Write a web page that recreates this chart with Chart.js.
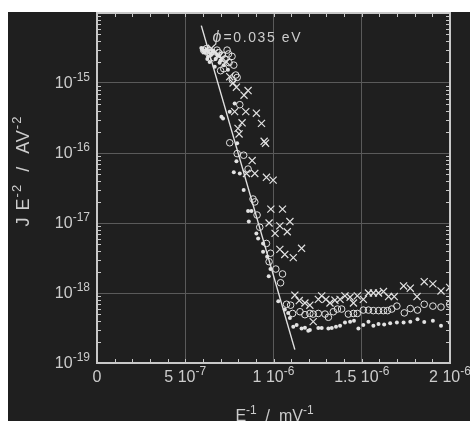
<!DOCTYPE html>
<html>
<head>
<meta charset="utf-8">
<script src="https://cdn.jsdelivr.net/npm/chart.js@4.4.1/dist/chart.umd.min.js"></script>
<style>
  html, body { margin: 0; padding: 0; background: #fff; }
</style>
</head>
<body>
<canvas id="chart" width="470" height="421"></canvas>
<script>
// E^-1 in units of 1e-6 mV^-1, J E^-2 in A V^-2
const dotX = [0.591, 0.610, 0.629, 0.653, 0.672, 0.695, 0.718, 0.667, 0.742, 0.638,
              0.600, 0.620, 0.645, 0.660, 0.685, 0.700, 0.625,
              0.780, 0.705, 0.714, 0.752, 0.794, 0.790, 0.775, 0.809, 0.831, 0.856,
              0.875, 0.860, 0.903, 0.913, 0.941, 0.941, 0.964, 0.983, 0.973,
              1.027, 1.064, 1.083, 1.093, 1.112, 1.131, 1.159, 1.178, 1.197, 1.206,
              1.254, 1.273, 1.311, 1.330, 1.354, 1.377, 1.405, 1.434, 1.456, 1.481,
              1.509, 1.538, 1.566, 1.595, 1.627, 1.661, 1.699, 1.737, 1.775, 1.816,
              1.854, 1.903, 1.949, 1.998];
const dotY = [3.15e-15, 2.7e-15, 2.4e-15, 2.8e-15, 2.2e-15, 1.95e-15, 1.8e-15, 1.7e-15, 1.55e-15, 2.0e-15,
              2.9e-15, 3.0e-15, 2.6e-15, 2.9e-15, 2.5e-15, 2.1e-15, 2.2e-15,
              5.1e-16, 3.3e-16, 3.1e-16, 3.9e-16, 1.38e-16, 7.6e-17, 5.3e-17, 5.1e-17, 2.95e-17, 1.48e-17,
              1.48e-17, 1.05e-17, 7.1e-18, 6.0e-18, 5.1e-18, 3.9e-18, 3.3e-18, 2.2e-18, 1.74e-18,
              7.6e-19, 5.8e-19, 5.2e-19, 4.4e-19, 3.3e-19, 3.5e-19, 3.1e-19, 3.2e-19, 2.9e-19, 2.95e-19,
              3.15e-19, 3.15e-19, 3.1e-19, 3.15e-19, 3.3e-19, 3.4e-19, 3.8e-19, 3.9e-19, 4.0e-19, 3.1e-19,
              3.5e-19, 3.9e-19, 3.4e-19, 3.6e-19, 3.55e-19, 3.7e-19, 3.8e-19, 3.8e-19, 3.9e-19, 4.2e-19,
              3.85e-19, 4.0e-19, 3.4e-19, 3.8e-19];

const circleX = [0.604, 0.642, 0.680, 0.710, 0.737, 0.765, 0.748, 0.775, 0.786, 0.794,
                 0.767, 0.718, 0.620, 0.660, 0.690, 0.725, 0.700, 0.745,
                 0.809, 0.752, 0.794, 0.831, 0.856, 0.884, 0.894, 0.907,
                 0.922, 0.960, 0.983, 0.975, 1.013, 1.051, 1.040,
                 1.074, 1.097, 1.108, 1.150, 1.178, 1.206, 1.225, 1.254, 1.292, 1.311,
                 1.339, 1.362, 1.386, 1.424, 1.453, 1.475, 1.509, 1.538, 1.566, 1.595,
                 1.623, 1.646, 1.670, 1.699, 1.741, 1.775, 1.816, 1.854, 1.903, 1.949,
                 1.998];
const circleY = [2.95e-15, 2.65e-15, 2.95e-15, 2.5e-15, 2.95e-15, 2.4e-15, 1.95e-15, 1.8e-15, 1.3e-15, 1.2e-15,
                 1.1e-15, 1.6e-15, 3.1e-15, 2.3e-15, 2.7e-15, 2.2e-15, 1.5e-15, 2.6e-15,
                 4.9e-16, 1.4e-16, 9.8e-17, 9.3e-17, 5.9e-17, 2.2e-17, 2.0e-17, 1.3e-17,
                 8.7e-18, 5.1e-18, 3.7e-18, 2.8e-18, 2.2e-18, 1.87e-18, 1.4e-18,
                 6.9e-19, 6.7e-19, 5.1e-19, 5.4e-19, 4.9e-19, 5.1e-19, 5.0e-19, 5.1e-19, 5.0e-19, 4.5e-19,
                 5.4e-19, 5.9e-19, 5.9e-19, 5.0e-19, 5.1e-19, 5.1e-19, 5.7e-19, 5.7e-19, 5.6e-19, 5.6e-19,
                 5.6e-19, 5.6e-19, 5.9e-19, 6.5e-19, 5.2e-19, 6.0e-19, 5.7e-19, 6.9e-19, 6.5e-19, 6.3e-19,
                 6.9e-19];

const crossX = [0.634, 0.648, 0.686, 0.695, 0.733, 0.752, 0.771, 0.790, 0.856, 0.833,
                0.615, 0.665, 0.705,
                0.780, 0.843, 0.903, 0.932, 0.822, 0.799, 0.805, 0.947, 0.955, 0.879,
                0.847, 0.894, 0.960, 0.998, 0.985, 1.051, 0.975, 1.036, 1.093, 1.009,
                1.078, 1.036, 1.064, 1.112, 1.159,
                1.121, 1.146, 1.178, 1.206, 1.225, 1.254, 1.273, 1.297, 1.320, 1.348,
                1.377, 1.405, 1.434, 1.453, 1.475, 1.509, 1.538, 1.566, 1.595, 1.623,
                1.652, 1.684, 1.737, 1.775, 1.813, 1.854, 1.903, 1.949, 1.998];
const crossY = [2.8e-15, 3.13e-15, 2.5e-15, 2.45e-15, 2.0e-15, 1.23e-15, 1.0e-15, 8.7e-16, 7.8e-16, 6.7e-16,
                2.9e-15, 2.7e-15, 2.2e-15,
                3.9e-16, 3.9e-16, 3.7e-16, 2.65e-16, 2.7e-16, 2.25e-16, 1.87e-16, 1.47e-16, 1.38e-16, 7.8e-17,
                5.1e-17, 5.1e-17, 4.5e-17, 4.1e-17, 1.58e-17, 1.58e-17, 1.0e-17, 9.1e-18, 1.05e-17, 7.1e-18,
                7.5e-18, 4.2e-18, 3.55e-18, 3.2e-18, 4.35e-18,
                9.3e-19, 7.8e-19, 7.2e-19, 6.7e-19, 3.9e-19, 8.1e-19, 9.1e-19, 8.1e-19, 7.2e-19, 7.9e-19,
                8.1e-19, 9.1e-19, 8.7e-19, 7.2e-19, 9.1e-19, 8.1e-19, 1.0e-18, 1.0e-18, 1.0e-18, 1.05e-18,
                8.9e-19, 8.9e-19, 1.26e-18, 1.17e-18, 8.9e-19, 1.45e-18, 1.35e-18, 1.07e-18, 1.2e-18];

// Fowler-Nordheim fit line, phi = 0.035 eV
const fitX = [0.591, 1.121];
const fitY = [6.6e-15, 1.55e-19];

const xTickValues = [0, 5e-7, 1e-6, 1.5e-6, 2e-6];
const xTickLabels = [["0", ""], ["5 10", "-7"], ["1 10", "-6"], ["1.5 10", "-6"], ["2 10", "-6"]];
const yTickExps = [-19, -18, -17, -16, -15, -14];
const yTickLabels = [["10", "-19"], ["10", "-18"], ["10", "-17"], ["10", "-16"], ["10", "-15"], ["", ""]];
const xMinorStep = 1e-7;

const BG = "#1f1f1f";
const GRID = "#5a5a5a";
const FRAME = "#c8c8c8";
const TEXT = "#cccccc";
const MARK = "#e2e2e2";
const FONT = "'Liberation Sans', Arial, sans-serif";

const pts = (xs, ys) => xs.map((x, i) => ({ x: x * 1e-6, y: ys[i] }));

// text with a superscript part; returns the x where it ends
function supText(ctx, base, sup, x, y, align, size, supSize, spacing) {
    ctx.save();
    ctx.letterSpacing = (spacing || 0) + "px";
    ctx.font = size + "px " + FONT;
    const wb = ctx.measureText(base).width;
    ctx.font = supSize + "px " + FONT;
    const ws = sup ? ctx.measureText(sup).width : 0;
    const w = wb + ws;
    let x0 = x;
    if (align === "center") x0 = x - w / 2;
    if (align === "right") x0 = x - w;
    ctx.textAlign = "left";
    ctx.textBaseline = "middle";
    ctx.fillStyle = TEXT;
    ctx.font = size + "px " + FONT;
    ctx.fillText(base, x0, y);
    if (sup) {
        ctx.font = supSize + "px " + FONT;
        ctx.fillText(sup, x0 + wb, y - size * 0.38);
    }
    ctx.restore();
    return x0 + w;
}

const backgroundPlugin = {
    id: "bg",
    beforeDraw(chart) {
        const ctx = chart.ctx;
        ctx.save();
        ctx.fillStyle = "#ffffff";
        ctx.fillRect(0, 0, chart.width, chart.height);
        ctx.fillStyle = BG;
        ctx.fillRect(8, 12, chart.width - 8, chart.height - 12);
        ctx.restore();
    }
};

const framePlugin = {
    id: "frame",
    afterDatasetsDraw(chart) {
        const ctx = chart.ctx;
        const { left, right, top, bottom } = chart.chartArea;
        const xs = chart.scales.x, ys = chart.scales.y;
        ctx.save();
        ctx.strokeStyle = FRAME;
        ctx.lineWidth = 1;
        ctx.beginPath();
        for (let i = 0; i <= 20; i++) {
            const px = Math.round(xs.getPixelForValue(i * xMinorStep)) + 0.5;
            ctx.moveTo(px, bottom); ctx.lineTo(px, bottom - 4);
            ctx.moveTo(px, top); ctx.lineTo(px, top + 4);
        }
        for (let d = -19; d < -14; d++) {
            for (let m = 2; m <= 9; m++) {
                const py = Math.round(ys.getPixelForValue(m * Math.pow(10, d))) + 0.5;
                ctx.moveTo(left, py); ctx.lineTo(left + 4, py);
                ctx.moveTo(right, py); ctx.lineTo(right - 4, py);
            }
        }
        ctx.stroke();
        ctx.lineWidth = 2;
        ctx.strokeRect(left, top, right - left, bottom - top);
        ctx.restore();
    },
    afterDraw(chart) {
        const ctx = chart.ctx;
        const xs = chart.scales.x, ys = chart.scales.y;
        const { left, bottom } = chart.chartArea;

        xTickValues.forEach((v, i) => {
            const [b, s] = xTickLabels[i];
            supText(ctx, b, s, xs.getPixelForValue(v), bottom + 15, "center", 16, 12);
        });
        yTickExps.forEach((e, i) => {
            const [b, s] = yTickLabels[i];
            if (b) supText(ctx, b, s, left - 7, ys.getPixelForValue(Math.pow(10, e)) + 1, "right", 16, 12);
        });

        // x title, runs off the bottom edge like the original
        ctx.save();
        const xParts = [["E", "-1"], ["  /  mV", "-1"]];
        let tw = 0;
        xParts.forEach(([b, s]) => {
            ctx.font = "16px " + FONT; tw += ctx.measureText(b).width;
            ctx.font = "12px " + FONT; tw += ctx.measureText(s).width;
        });
        let cx = xs.getPixelForValue(1e-6) + 1 - tw / 2;
        xParts.forEach(([b, s]) => { cx = supText(ctx, b, s, cx, bottom + 54, "left", 16, 12); });
        ctx.restore();

        // y title (rotated)
        ctx.save();
        ctx.translate(24, 171);
        ctx.rotate(-Math.PI / 2);
        const yParts = [["J E", "-2"], ["  /  AV", "-2"]];
        let th = 0;
        yParts.forEach(([b, s]) => {
            ctx.letterSpacing = "1px";
            ctx.font = "18px " + FONT; th += ctx.measureText(b).width;
            ctx.font = "13px " + FONT; th += ctx.measureText(s).width;
        });
        let cy = -th / 2;
        yParts.forEach(([b, s]) => { cy = supText(ctx, b, s, cy, 0, "left", 18, 13, 1); });
        ctx.restore();

        // phi annotation
        ctx.save();
        const ax = xs.getPixelForValue(0.655e-6), ay = ys.getPixelForValue(4.4e-15);
        ctx.fillStyle = TEXT;
        ctx.textBaseline = "middle";
        ctx.font = "italic 16px " + FONT;
        ctx.fillText("\u03D5", ax, ay);
        const pw = ctx.measureText("\u03D5").width;
        ctx.font = "14px " + FONT;
        ctx.letterSpacing = "1.6px";
        ctx.fillText("=0.035 eV", ax + pw + 2, ay);
        ctx.restore();
    }
};

new Chart(document.getElementById("chart"), {
    type: "scatter",
    data: {
        datasets: [
            { label: "fit", data: pts(fitX, fitY), showLine: true, borderColor: MARK, borderWidth: 1.4,
              pointRadius: 0, fill: false },
            { label: "dots", data: pts(dotX, dotY), pointStyle: "circle", pointRadius: 2,
              backgroundColor: MARK, borderWidth: 0 },
            { label: "circles", data: pts(circleX, circleY), pointStyle: "circle", pointRadius: 3.3,
              backgroundColor: "rgba(0,0,0,0)", borderColor: MARK, borderWidth: 1 },
            { label: "crosses", data: pts(crossX, crossY), pointStyle: "crossRot", pointRadius: 5,
              borderColor: MARK, borderWidth: 1.2 }
        ]
    },
    options: {
        responsive: false,
        animation: false,
        events: [],
        layout: { padding: { left: 97, right: 20, top: 13, bottom: 58 }, autoPadding: false },
        plugins: { legend: { display: false }, tooltip: { enabled: false } },
        scales: {
            x: {
                type: "linear", min: 0, max: 2e-6,
                afterBuildTicks: s => { s.ticks = xTickValues.map(v => ({ value: v })); },
                afterFit: s => { s.height = 0; },
                ticks: { display: false },
                grid: { color: GRID, lineWidth: 1, drawTicks: false },
                border: { display: false }
            },
            y: {
                type: "logarithmic", min: 1e-19, max: 1e-14,
                afterBuildTicks: s => { s.ticks = yTickExps.map(e => ({ value: Math.pow(10, e) })); },
                afterFit: s => { s.width = 0; },
                ticks: { display: false },
                grid: { color: GRID, lineWidth: 1, drawTicks: false },
                border: { display: false }
            }
        }
    },
    plugins: [backgroundPlugin, framePlugin]
});
</script>
</body>
</html>
